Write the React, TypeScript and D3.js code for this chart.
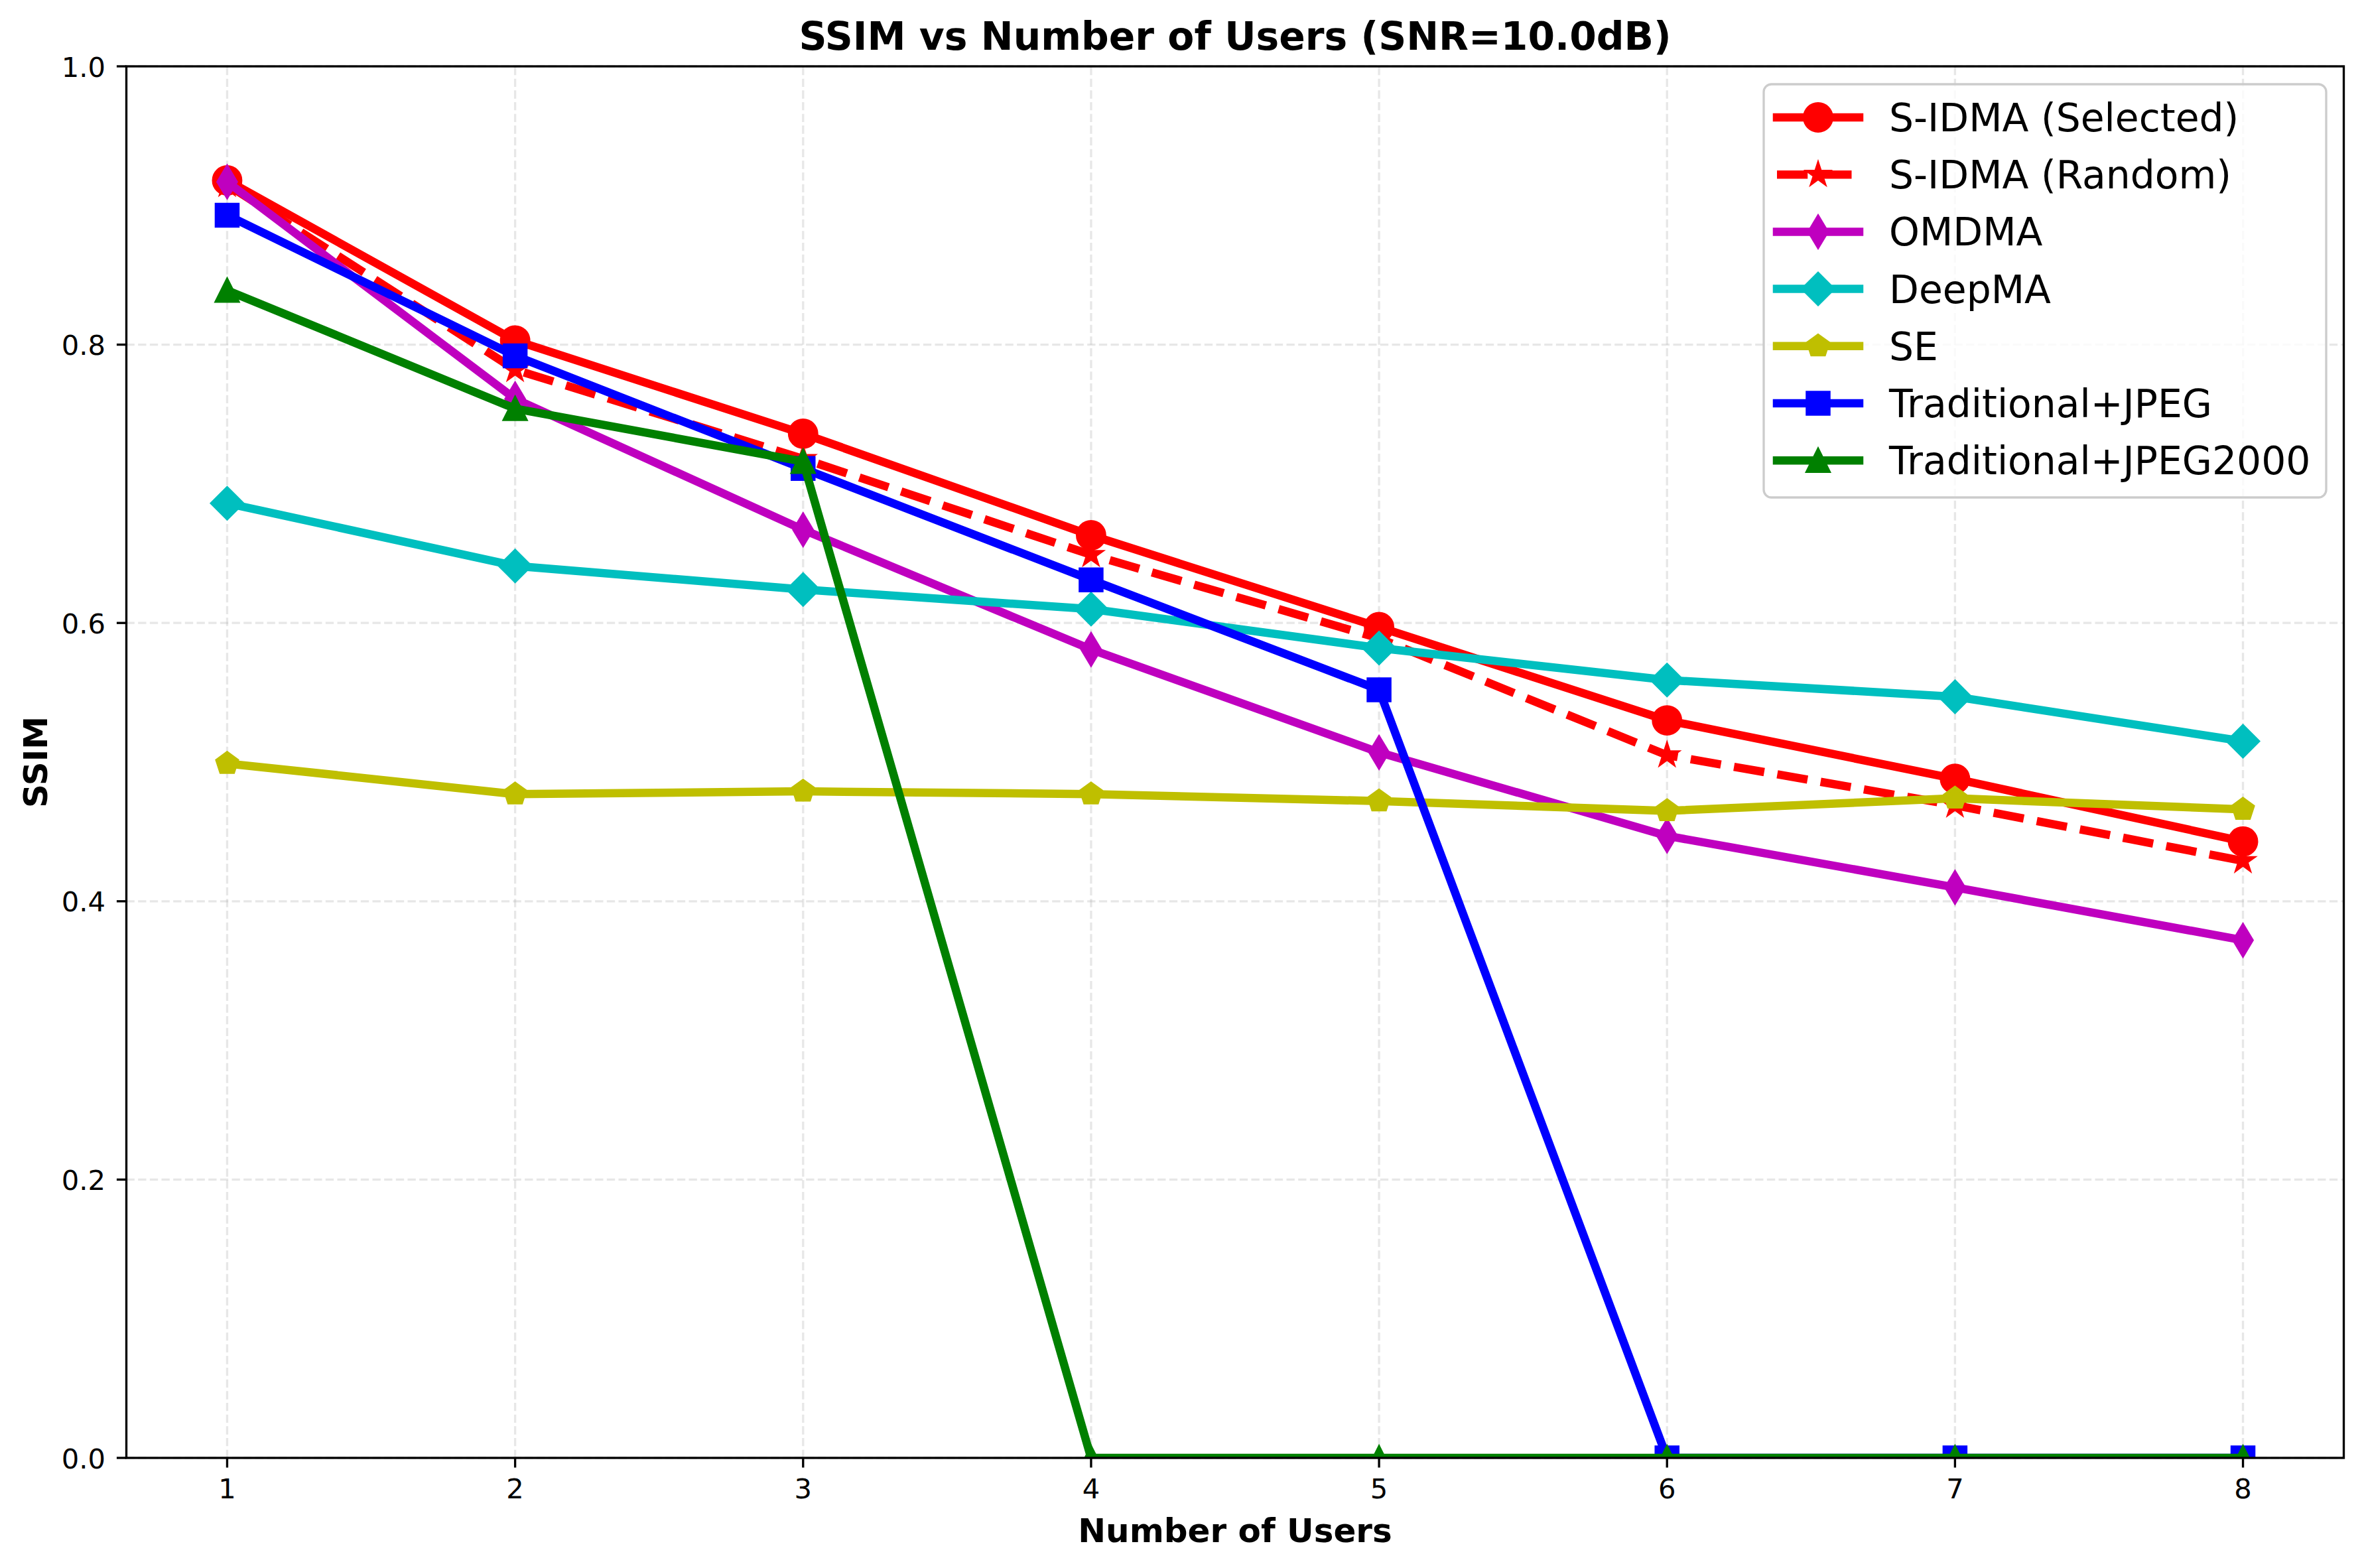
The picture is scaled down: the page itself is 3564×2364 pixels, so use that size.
import React from "react";
import * as d3 from "d3";

const users = [1, 2, 3, 4, 5, 6, 7, 8];
const sidmaSelected = [0.918, 0.803, 0.736, 0.663, 0.597, 0.530, 0.488, 0.443];
const sidmaRandom = [0.915, 0.782, 0.718, 0.649, 0.589, 0.505, 0.469, 0.429];
const omdma = [0.917, 0.761, 0.667, 0.581, 0.507, 0.447, 0.410, 0.372];
const deepma = [0.686, 0.641, 0.624, 0.610, 0.582, 0.559, 0.547, 0.515];
const se = [0.499, 0.477, 0.479, 0.477, 0.472, 0.465, 0.474, 0.466];
const tradJpeg = [0.893, 0.792, 0.711, 0.631, 0.552, 0.0, 0.0, 0.0];
const tradJpeg2000 = [0.839, 0.754, 0.716, 0.0, 0.0, 0.0, 0.0, 0.0];

const seriesLabels = [
  "S-IDMA (Selected)",
  "S-IDMA (Random)",
  "OMDMA",
  "DeepMA",
  "SE",
  "Traditional+JPEG",
  "Traditional+JPEG2000",
];
const seriesValues = [sidmaSelected, sidmaRandom, omdma, deepma, se, tradJpeg, tradJpeg2000];
const seriesColors = ["#ff0000", "#ff0000", "#bf00bf", "#00bfbf", "#bfbf00", "#0000ff", "#008000"];
const seriesMarkers = ["o", "*", "d", "D", "p", "s", "^"];
const seriesMarkerSizes = [10, 8, 8, 8, 8, 8, 8];
const seriesDashed = [false, true, false, false, false, false, false];

const xTicks = [1, 2, 3, 4, 5, 6, 7, 8];
const yTicks = [0, 0.2, 0.4, 0.6, 0.8, 1.0];
const yTickLabels = ["0.0", "0.2", "0.4", "0.6", "0.8", "1.0"];

const titleText = "SSIM vs Number of Users (SNR=10.0dB)";
const xLabelText = "Number of Users";
const yLabelText = "SSIM";

const PT = 300 / 72;

function markerPath(kind: string, size: number): string {
  const s = size * PT;
  const p = d3.path();
  if (kind === "o") {
    p.arc(0, 0, s / 2, 0, Math.PI * 2);
    p.closePath();
    return p.toString();
  }
  let pts: [number, number][] = [];
  if (kind === "*") {
    const ro = s / 2;
    const ri = ro * 0.381966;
    for (let i = 0; i < 10; i++) {
      const r = i % 2 === 0 ? ro : ri;
      const a = -Math.PI / 2 + (i * Math.PI) / 5;
      pts.push([r * Math.cos(a), r * Math.sin(a)]);
    }
  } else if (kind === "d") {
    const h = s * Math.SQRT1_2;
    const w = 0.6 * h;
    pts = [[0, -h], [w, 0], [0, h], [-w, 0]];
  } else if (kind === "D") {
    const h = s * Math.SQRT1_2;
    pts = [[0, -h], [h, 0], [0, h], [-h, 0]];
  } else if (kind === "p") {
    const r = s / 2;
    for (let i = 0; i < 5; i++) {
      const a = -Math.PI / 2 + (i * 2 * Math.PI) / 5;
      pts.push([r * Math.cos(a), r * Math.sin(a)]);
    }
  } else if (kind === "s") {
    const h = s / 2;
    pts = [[-h, -h], [h, -h], [h, h], [-h, h]];
  } else if (kind === "^") {
    const h = s / 2;
    pts = [[0, -h], [h, h], [-h, h]];
  }
  pts.forEach((q, i) => (i === 0 ? p.moveTo(q[0], q[1]) : p.lineTo(q[0], q[1])));
  p.closePath();
  return p.toString();
}

export default function App() {
  const W = 3564;
  const H = 2364;
  const left = 190.5;
  const right = 3533.5;
  const top = 100;
  const bottom = 2198;
  const x = d3.scaleLinear().domain([0.65, 8.35]).range([left, right]);
  const y = d3.scaleLinear().domain([0, 1]).range([bottom, top]);
  const lw = 3 * PT;
  const spineW = 0.8 * PT;
  const tickLen = 3.5 * PT;
  const font = "DejaVu Sans, sans-serif";
  const tickFs = 10 * PT;

  const line = d3
    .line<number>()
    .x((_, i) => x(users[i]))
    .y((d) => y(d));

  const legX0 = 2659;
  const legY0 = 127;
  const legW = 3507 - 2659;
  const legH = 750 - 127;
  const rowY0 = 177;
  const rowDy = 86.2;

  return (
    <div style={{ position: "absolute", left: 0, top: 0 }}>
      <svg width={W} height={H} viewBox={`0 0 ${W} ${H}`} style={{ display: "block", background: "#fff" }}>
        <defs>
          <clipPath id="plotclip">
            <rect x={left} y={top} width={right - left} height={bottom - top} />
          </clipPath>
        </defs>
        <rect x={0} y={0} width={W} height={H} fill="#fff" />
        {/* grid */}
        <g stroke="#b0b0b0" strokeOpacity={0.3} strokeWidth={0.8 * PT} strokeDasharray={`${3.7 * 0.8 * PT} ${1.6 * 0.8 * PT}`}>
          {xTicks.map((t) => (
            <line key={"gx" + t} x1={x(t)} x2={x(t)} y1={bottom} y2={top} />
          ))}
          {yTicks.map((t) => (
            <line key={"gy" + t} x1={left} x2={right} y1={y(t)} y2={y(t)} />
          ))}
        </g>
        {/* series */}
        <g clipPath="url(#plotclip)">
          {seriesValues.map((vals, si) => (
            <g key={"s" + si}>
              <path
                d={line(vals) || ""}
                fill="none"
                stroke={seriesColors[si]}
                strokeWidth={lw}
                strokeLinejoin="round"
                strokeLinecap={seriesDashed[si] ? "butt" : "square"}
                strokeDasharray={seriesDashed[si] ? `${3.7 * lw} ${1.6 * lw}` : undefined}
              />
              {vals.map((v, i) => (
                <path
                  key={"m" + i}
                  d={markerPath(seriesMarkers[si], seriesMarkerSizes[si])}
                  transform={`translate(${x(users[i])},${y(v)})`}
                  fill={seriesColors[si]}
                  stroke={seriesColors[si]}
                  strokeWidth={1 * PT}
                  strokeLinejoin="miter"
                />
              ))}
            </g>
          ))}
        </g>
        {/* spines */}
        <rect x={left} y={top} width={right - left} height={bottom - top} fill="none" stroke="#000" strokeWidth={spineW} strokeLinejoin="miter" />
        {/* x ticks */}
        <g>
          {xTicks.map((t) => (
            <g key={"xt" + t}>
              <line x1={x(t)} x2={x(t)} y1={bottom} y2={bottom + tickLen} stroke="#000" strokeWidth={spineW} />
              <text x={x(t)} y={2259} textAnchor="middle" fontFamily={font} fontSize={tickFs} fill="#000">
                {String(t)}
              </text>
            </g>
          ))}
        </g>
        {/* y ticks */}
        <g>
          {yTicks.map((t, i) => (
            <g key={"yt" + t}>
              <line x1={left - tickLen} x2={left} y1={y(t)} y2={y(t)} stroke="#000" strokeWidth={spineW} />
              <text x={159} y={y(t) + 15.5} textAnchor="end" fontFamily={font} fontSize={tickFs} fill="#000">
                {yTickLabels[i]}
              </text>
            </g>
          ))}
        </g>
        {/* labels */}
        <text x={(left + right) / 2} y={2325} textAnchor="middle" fontFamily={font} fontWeight="bold" fontSize={12 * PT} fill="#000">
          {xLabelText}
        </text>
        <text
          transform={`translate(71,${(top + bottom) / 2}) rotate(-90)`}
          textAnchor="middle"
          fontFamily={font}
          fontWeight="bold"
          fontSize={12 * PT}
          fill="#000"
        >
          {yLabelText}
        </text>
        <text x={(left + right) / 2} y={75} textAnchor="middle" fontFamily={font} fontWeight="bold" fontSize={14 * PT} fill="#000">
          {titleText}
        </text>
        {/* legend */}
        <g>
          <rect x={legX0} y={legY0} width={legW} height={legH} rx={11.7} ry={11.7} fill="#fff" fillOpacity={0.8} stroke="#cccccc" strokeWidth={spineW} />
          {seriesLabels.map((lab, si) => {
            const cy = rowY0 + si * rowDy;
            return (
              <g key={"lg" + si}>
                <line
                  x1={2679}
                  x2={2803}
                  y1={cy}
                  y2={cy}
                  stroke={seriesColors[si]}
                  strokeWidth={lw}
                  strokeLinecap={seriesDashed[si] ? "butt" : "square"}
                  strokeDasharray={seriesDashed[si] ? `${3.7 * lw} ${1.6 * lw}` : undefined}
                />
                <path
                  d={markerPath(seriesMarkers[si], seriesMarkerSizes[si])}
                  transform={`translate(2741,${cy})`}
                  fill={seriesColors[si]}
                  stroke={seriesColors[si]}
                  strokeWidth={1 * PT}
                />
                <text x={2848} y={cy + 21} fontFamily={font} fontSize={14 * PT} fill="#000">
                  {lab}
                </text>
              </g>
            );
          })}
        </g>
      </svg>
    </div>
  );
}
